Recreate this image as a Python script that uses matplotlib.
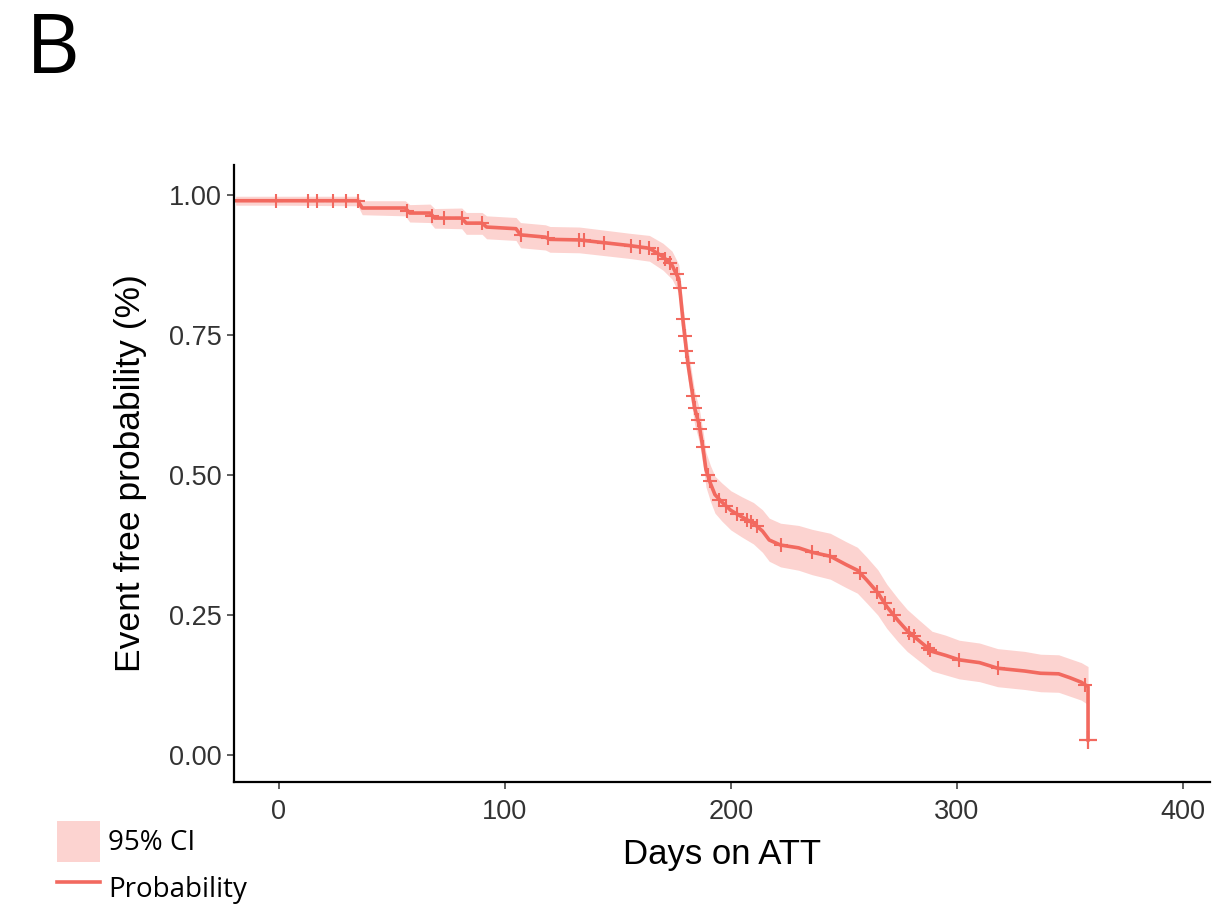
import numpy as np
import matplotlib
matplotlib.use('Agg')
import matplotlib.pyplot as plt
from matplotlib.patches import Patch
from matplotlib.lines import Line2D

# Kaplan-Meier curve
days = [-19, 0, 35, 37, 56, 58, 67, 69, 81, 83, 90, 92, 105, 107, 118, 120, 133, 155, 164, 170,
        174, 177, 179, 181, 184, 186, 188, 189, 191, 193, 196, 200, 205, 210, 214, 217, 222, 230,
        236, 244, 251, 256, 260, 265, 269, 274, 278, 283, 289, 295, 301, 310, 318, 330, 337, 345,
        350, 355, 358, 358]
surv = [0.99, 0.99, 0.99, 0.977, 0.977, 0.968, 0.968, 0.959, 0.959, 0.95, 0.95, 0.943, 0.94, 0.929,
        0.925, 0.921, 0.92, 0.91, 0.905, 0.89, 0.875, 0.85, 0.77, 0.70, 0.62, 0.59, 0.54, 0.51,
        0.485, 0.465, 0.452, 0.437, 0.425, 0.414, 0.40, 0.384, 0.375, 0.37, 0.362, 0.355, 0.34,
        0.33, 0.313, 0.29, 0.265, 0.24, 0.222, 0.205, 0.185, 0.178, 0.17, 0.165, 0.155, 0.15,
        0.146, 0.145, 0.138, 0.13, 0.122, 0.027]
lower = [0.982, 0.982, 0.981, 0.965, 0.963, 0.952, 0.951, 0.941, 0.94, 0.93, 0.93, 0.922, 0.919,
         0.906, 0.902, 0.898, 0.897, 0.887, 0.882, 0.866, 0.85, 0.825, 0.743, 0.672, 0.59, 0.56,
         0.51, 0.479, 0.453, 0.432, 0.418, 0.402, 0.389, 0.377, 0.362, 0.346, 0.336, 0.33, 0.322,
         0.314, 0.299, 0.289, 0.272, 0.25, 0.226, 0.202, 0.185, 0.169, 0.15, 0.143, 0.136, 0.131,
         0.122, 0.117, 0.113, 0.112, 0.105, 0.098, 0.09, 0.09]
upper = [0.998, 0.998, 0.998, 0.99, 0.99, 0.983, 0.984, 0.976, 0.977, 0.969, 0.969, 0.963, 0.96,
         0.951, 0.947, 0.944, 0.943, 0.932, 0.928, 0.914, 0.9, 0.876, 0.797, 0.728, 0.65, 0.62,
         0.571, 0.541, 0.517, 0.498, 0.486, 0.472, 0.461, 0.451, 0.438, 0.423, 0.414, 0.41, 0.403,
         0.396, 0.381, 0.371, 0.354, 0.331, 0.305, 0.279, 0.26, 0.242, 0.221, 0.214, 0.205, 0.2,
         0.19, 0.185, 0.18, 0.179, 0.172, 0.165, 0.158, 0.158]

# censored observations
censor_days = [-1, 13, 17, 24, 30, 35, 57, 68, 73, 81, 90, 107, 119, 133, 135, 144, 156, 160, 164,
               168, 171, 173, 176, 177.4, 178.8, 179.6, 180.4, 181, 183.2, 184, 185.4, 186.3, 187.6,
               189.8, 190.7, 195, 198, 202.6, 207, 209, 211.5, 222, 236, 244, 257, 264.6, 268, 272,
               279, 281, 287, 288, 301, 318, 356.6]

red = '#F2695F'
band = '#F8766D'

fig = plt.figure(figsize=(12.15, 9.06), dpi=100)
ax = fig.add_axes([0.193, 0.137, 0.803, 0.681])

ax.fill_between(days, lower, upper, color=band, alpha=0.32, linewidth=0)
ax.plot(days, surv, color=red, linewidth=2.6, solid_joinstyle='round')
cens_y = np.interp(censor_days, days[:-1], surv[:-1])
ax.plot(censor_days, cens_y, '+', color=red, markersize=10, markeredgewidth=1.5)
ax.plot(days[-1], surv[-1], '+', color=red, markersize=13, markeredgewidth=1.6)

ax.set_xlim(-19.5, 412)
ax.set_ylim(-0.048, 1.054)
ax.set_xticks([0, 100, 200, 300, 400])
ax.set_yticks([0, 0.25, 0.5, 0.75, 1.0])
ax.set_yticklabels(['0.00', '0.25', '0.50', '0.75', '1.00'])
for s in ['top', 'right']:
    ax.spines[s].set_visible(False)
for s in ['left', 'bottom']:
    ax.spines[s].set_linewidth(1.6)
ax.tick_params(direction='out', length=5, width=1.1, labelsize=19.5, colors='#333333',
               labelcolor='#333333')
ax.tick_params(axis='x', pad=7)
ax.tick_params(axis='y', pad=4)
for lab in ax.get_xticklabels() + ax.get_yticklabels():
    lab.set_family('Liberation Sans')

ax.set_xlabel('Days on ATT', fontsize=25, family='Liberation Sans', labelpad=10)
ax.set_ylabel('Event free probability (%)', fontsize=25.5, family='Liberation Sans', labelpad=16)

fig.text(0.021, 0.919, 'B', fontsize=60, family='Open Sans', va='baseline')

handles = [Patch(facecolor=band, alpha=0.32, edgecolor='none'),
           Line2D([], [], color=red, linewidth=2.6)]
fig.legend(handles, ['95% CI', 'Probability'], loc='lower left', bbox_to_anchor=(0.047, -0.003),
           frameon=False, prop={'family': 'Open Sans', 'size': 20}, handlelength=1.55,
           handleheight=1.9, handletextpad=0.3, labelspacing=0.2, borderaxespad=0, borderpad=0)

fig.savefig('out.png', dpi=100)
